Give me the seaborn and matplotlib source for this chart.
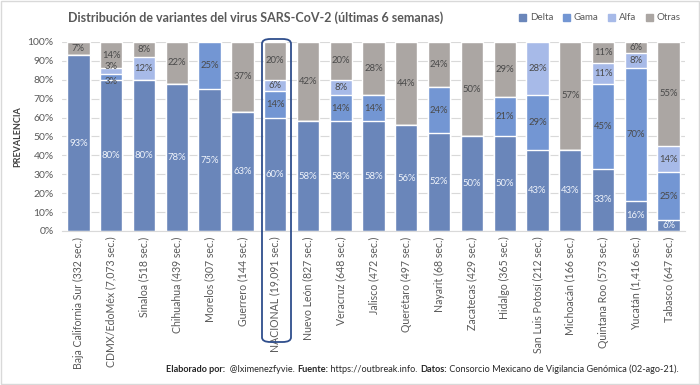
import pandas as pd
import seaborn as sns
import matplotlib.pyplot as plt
from matplotlib.patches import FancyBboxPatch, Rectangle

estados = ['Baja California Sur (332 sec.)', 'CDMX/EdoMéx (7,073 sec.)', 'Sinaloa (518 sec.)',
           'Chihuahua (439 sec.)', 'Morelos (307 sec.)', 'Guerrero (144 sec.)',
           'NACIONAL (19,091 sec.)', 'Nuevo León (827 sec.)', 'Veracruz (648 sec.)',
           'Jalisco (472 sec.)', 'Querétaro (497 sec.)', 'Nayarit (68 sec.)',
           'Zacatecas (429 sec.)', 'Hidalgo (365 sec.)', 'San Luis Potosí (212 sec.)',
           'Michoacán (166 sec.)', 'Quintana Roo (573 sec.)', 'Yucatán (1,416 sec.)',
           'Tabasco (647 sec.)']
delta = [93, 80, 80, 78, 75, 63, 60, 58, 58, 58, 56, 52, 50, 50, 43, 43, 33, 16, 6]
gama = [0, 3, 0, 0, 25, 0, 14, 0, 14, 14, 0, 24, 0, 21, 29, 0, 45, 70, 25]
alfa = [0, 3, 12, 0, 0, 0, 6, 0, 8, 0, 0, 0, 0, 0, 28, 0, 11, 8, 14]
otras = [7, 14, 8, 22, 0, 37, 20, 42, 20, 28, 44, 24, 50, 29, 0, 57, 11, 6, 55]

variantes = ['Delta', 'Gama', 'Alfa', 'Otras']
colores = {'Delta': '#6a86ba', 'Gama': '#7396d3', 'Alfa': '#a7bae8', 'Otras': '#aba6a3'}

df = pd.DataFrame({'estado': estados, 'Delta': delta, 'Gama': gama, 'Alfa': alfa, 'Otras': otras})
df['c_Delta'] = df['Delta']
df['c_Gama'] = df['c_Delta'] + df['Gama']
df['c_Alfa'] = df['c_Gama'] + df['Alfa']
df['c_Otras'] = df['c_Alfa'] + df['Otras']

sns.set_style('white')
plt.rcParams['font.family'] = ['Lato', 'DejaVu Sans']

fig = plt.figure(figsize=(7, 3.85), dpi=100)
ax = fig.add_axes([0.0886, 0.4, 0.89, 0.491])

# cumulative bars, drawn from top segment down
for v in reversed(variantes):
    sns.barplot(data=df, x='estado', y='c_' + v, color=colores[v], width=0.68,
                saturation=1, ax=ax, zorder=2)

for i, row in df.iterrows():
    base = 0
    for v in variantes:
        val = row[v]
        if val > 0:
            tc = '#f0f4fb' if v == 'Delta' else '#4a4a4a'
            y = base + val / 2
            if val < 5:  # tiny segments: push labels apart like Excel does
                y += -2.5 if v == 'Gama' else 2.5
            ax.text(i, y, f'{val}%', ha='center', va='center',
                    fontsize=6.8, color=tc, zorder=3)
        base += val

ax.set_ylim(0, 100)
ax.set_xlim(-0.5, len(estados) - 0.5)
ax.set_yticks(range(0, 101, 10))
ax.set_yticklabels([f'{t}%' for t in range(0, 101, 10)], fontsize=7.5, color='#595959')
ax.yaxis.grid(True, color='#d9d9d9', lw=0.8, zorder=0)
ax.set_axisbelow(True)
ax.tick_params(axis='x', labelrotation=90, labelsize=7.6, labelcolor='#595959', length=0, pad=4)
ax.tick_params(axis='y', length=0, pad=6)
ax.set_xlabel('')
ax.set_ylabel('PREVALENCIA', fontsize=6.5, fontweight='bold', color='#404040', labelpad=4)
for s in ['top', 'right', 'left']:
    ax.spines[s].set_visible(False)
ax.spines['bottom'].set_color('#d9d9d9')

fig.text(68 / 700, 1 - 18 / 385, 'Distribución de variantes del virus SARS-CoV-2 (últimas 6 semanas)',
         fontsize=9, fontweight='bold', color='#595959', va='center', ha='left')

handles = [Rectangle((0, 0), 1, 1, color=colores[v]) for v in variantes]
fig.legend(handles, variantes, loc='center right', bbox_to_anchor=(0.985, 1 - 18 / 385), ncol=4,
           frameon=False, fontsize=7, handlelength=0.7, handleheight=0.7, handletextpad=0.4,
           columnspacing=1.0, labelcolor='#595959')

# highlight NACIONAL
fig.add_artist(FancyBboxPatch((262 / 700, 1 - 342 / 385), 29 / 700, 303 / 385,
                              boxstyle='round,pad=0,rounding_size=0.012',
                              transform=fig.transFigure, fill=False, ec='#2f4e8c', lw=1.3))

# footer with mixed bold
partes = [('Elaborado por:', 'bold'), ('  @Iximenezfyvie. ', 'normal'), ('Fuente:', 'bold'),
          (' https://outbreak.info. ', 'normal'), ('Datos:', 'bold'),
          (' Consorcio Mexicano de Vigilancia Genómica (02-ago-21).', 'normal')]
prev = fig.text(166 / 700, 1 - 370 / 385, partes[0][0], fontsize=6.6, fontweight=partes[0][1],
                color='#262626', va='center', ha='left')
for txt, w in partes[1:]:
    prev = ax.annotate(txt, xy=(1, 0), xycoords=prev, va='bottom', ha='left',
                       fontsize=6.6, fontweight=w, color='#262626', annotation_clip=False)

fig.add_artist(Rectangle((0.001, 0.002), 0.997, 0.995, transform=fig.transFigure,
                         fill=False, ec='#d9d9d9', lw=1))

fig.savefig('out.png', dpi=100)
